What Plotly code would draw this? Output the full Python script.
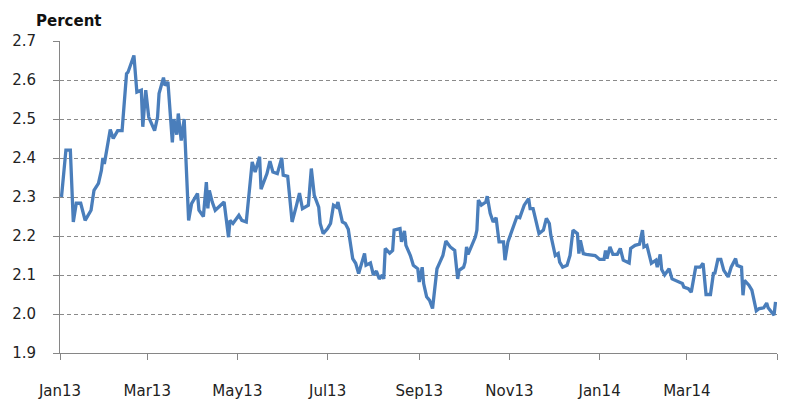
import plotly.graph_objects as go

dates = [
    "2013-01-02","2013-01-05","2013-01-08","2013-01-10","2013-01-12","2013-01-15","2013-01-18","2013-01-22",
    "2013-01-24","2013-01-27","2013-01-29","2013-01-30","2013-01-31","2013-02-02","2013-02-04","2013-02-06",
    "2013-02-09","2013-02-12","2013-02-15","2013-02-16","2013-02-20","2013-02-22","2013-02-25","2013-02-26",
    "2013-02-28","2013-03-02","2013-03-06","2013-03-08","2013-03-09","2013-03-12","2013-03-13","2013-03-15",
    "2013-03-18","2013-03-19","2013-03-21","2013-03-22","2013-03-24","2013-03-26","2013-03-29","2013-03-31",
    "2013-04-04","2013-04-05","2013-04-08","2013-04-10","2013-04-11","2013-04-12","2013-04-14","2013-04-16",
    "2013-04-22","2013-04-25","2013-04-26","2013-04-28","2013-05-02","2013-05-04","2013-05-07","2013-05-11",
    "2013-05-13","2013-05-16","2013-05-17","2013-05-21","2013-05-23","2013-05-25","2013-05-28","2013-05-31",
    "2013-06-01","2013-06-04","2013-06-07","2013-06-10","2013-06-12","2013-06-14","2013-06-18","2013-06-20",
    "2013-06-22","2013-06-25","2013-06-26","2013-06-28","2013-07-01","2013-07-03","2013-07-05","2013-07-07",
    "2013-07-08","2013-07-11","2013-07-13","2013-07-15","2013-07-18","2013-07-20","2013-07-22","2013-07-26",
    "2013-07-27","2013-07-30","2013-08-01","2013-08-03","2013-08-05","2013-08-07","2013-08-08","2013-08-09",
    "2013-08-12","2013-08-14","2013-08-15","2013-08-19","2013-08-20","2013-08-22","2013-08-23","2013-08-26",
    "2013-08-28","2013-08-31","2013-09-01","2013-09-03","2013-09-04","2013-09-06","2013-09-08","2013-09-10",
    "2013-09-13","2013-09-15","2013-09-17","2013-09-19","2013-09-22","2013-09-25","2013-09-27","2013-09-28",
    "2013-10-01","2013-10-02","2013-10-03","2013-10-04","2013-10-06","2013-10-09","2013-10-10","2013-10-11",
    "2013-10-13","2013-10-16","2013-10-17","2013-10-19","2013-10-21","2013-10-23","2013-10-24","2013-10-25",
    "2013-10-28","2013-10-29","2013-10-31","2013-11-03","2013-11-06","2013-11-08","2013-11-11","2013-11-14",
    "2013-11-15","2013-11-17","2013-11-19","2013-11-21","2013-11-24","2013-11-26","2013-11-28","2013-11-29",
    "2013-12-02","2013-12-04","2013-12-05","2013-12-07","2013-12-10","2013-12-12","2013-12-14","2013-12-17",
    "2013-12-18","2013-12-19","2013-12-21","2013-12-23","2013-12-29","2014-01-01","2014-01-04","2014-01-05",
    "2014-01-06","2014-01-08","2014-01-10","2014-01-13","2014-01-15","2014-01-17","2014-01-21","2014-01-22",
    "2014-01-25","2014-01-28","2014-01-30","2014-01-31","2014-02-02","2014-02-04","2014-02-05","2014-02-08",
    "2014-02-09","2014-02-11","2014-02-12","2014-02-14","2014-02-17","2014-02-19","2014-02-22","2014-02-26",
    "2014-02-27","2014-03-02","2014-03-04","2014-03-07","2014-03-10","2014-03-12","2014-03-14","2014-03-17",
    "2014-03-19","2014-03-20","2014-03-22","2014-03-24","2014-03-26","2014-03-29","2014-03-31","2014-04-03",
    "2014-04-04","2014-04-07","2014-04-08","2014-04-09","2014-04-12","2014-04-14","2014-04-17","2014-04-19",
    "2014-04-22","2014-04-24","2014-04-25","2014-04-27","2014-04-29","2014-04-30",
]

percent = [
    2.30,2.42,2.42,2.236,2.284,2.284,2.24,2.266,
    2.317,2.335,2.368,2.40,2.385,2.43,2.473,2.45,
    2.47,2.47,2.616,2.62,2.663,2.569,2.574,2.48,
    2.574,2.505,2.47,2.505,2.565,2.606,2.586,2.595,
    2.44,2.50,2.46,2.514,2.445,2.50,2.24,2.283,
    2.309,2.266,2.25,2.338,2.271,2.317,2.287,2.266,
    2.287,2.197,2.24,2.232,2.253,2.24,2.236,2.39,
    2.364,2.403,2.32,2.36,2.392,2.364,2.36,2.40,
    2.356,2.353,2.236,2.279,2.31,2.27,2.279,2.373,
    2.304,2.274,2.232,2.206,2.219,2.232,2.279,2.274,
    2.287,2.236,2.232,2.217,2.142,2.13,2.104,2.155,
    2.125,2.131,2.10,2.11,2.09,2.10,2.09,2.168,
    2.156,2.163,2.215,2.219,2.185,2.213,2.176,2.15,
    2.125,2.116,2.082,2.12,2.078,2.044,2.035,2.014,
    2.116,2.133,2.15,2.187,2.172,2.163,2.09,2.112,
    2.12,2.133,2.172,2.153,2.172,2.198,2.215,2.292,
    2.279,2.287,2.302,2.258,2.236,2.247,2.215,2.185,
    2.185,2.138,2.185,2.215,2.249,2.247,2.279,2.296,
    2.27,2.27,2.236,2.206,2.215,2.245,2.232,2.202,
    2.15,2.155,2.133,2.12,2.125,2.15,2.215,2.206,
    2.155,2.189,2.155,2.153,2.15,2.14,2.14,2.163,
    2.142,2.172,2.153,2.153,2.168,2.138,2.131,2.168,
    2.176,2.179,2.215,2.172,2.176,2.146,2.13,2.138,
    2.12,2.153,2.114,2.10,2.116,2.09,2.085,2.078,
    2.069,2.065,2.056,2.12,2.12,2.13,2.05,2.05,
    2.104,2.105,2.14,2.14,2.112,2.095,2.12,2.142,
    2.125,2.12,2.048,2.086,2.074,2.061,2.008,2.014,
    2.016,2.028,2.016,2.008,1.997,2.031,
]

tick_dates = ["2013-01-01","2013-03-01","2013-05-01","2013-07-01","2013-09-01",
              "2013-11-01","2014-01-01","2014-03-01","2014-05-01"]
tick_labels = ["Jan13","Mar13","May13","Jul13","Sep13","Nov13","Jan14","Mar14",""]
y_ticks = [1.9,2.0,2.1,2.2,2.3,2.4,2.5,2.6,2.7]

FONT = "DejaVu Sans"

fig = go.Figure()
fig.add_trace(go.Scatter(
    x=dates, y=percent, mode="lines",
    line=dict(color="#4a7ebb", width=3.3),
    hoverinfo="skip",
))

fig.update_layout(
    width=800, height=413,
    margin=dict(l=52, r=31, t=33, b=68, autoexpand=False),
    paper_bgcolor="white", plot_bgcolor="white",
    showlegend=False,
    font=dict(family=FONT, size=15, color="#222"),
    xaxis=dict(
        type="date",
        range=["2013-01-01", "2014-05-01"],
        tickvals=tick_dates, ticktext=tick_labels,
        showgrid=False, zeroline=False,
        showline=True, linecolor="#868686", linewidth=1,
        ticks="outside", ticklen=6, tickcolor="#868686",
        ticklabelstandoff=18,
        tickfont=dict(family=FONT, size=15, color="#222"),
    ),
    yaxis=dict(
        range=[1.9, 2.7],
        tickvals=y_ticks, tickformat=".1f",
        showgrid=True, gridcolor="#8a8a8a", gridwidth=1, griddash="4px,3px",
        zeroline=False,
        showline=True, linecolor="#868686", linewidth=1,
        ticks="outside", ticklen=6, tickcolor="#868686",
        ticklabelstandoff=14,
        tickfont=dict(family=FONT, size=15, color="#222"),
    ),
    annotations=[dict(
        text="<b>Percent</b>", xref="paper", yref="paper",
        x=-0.036, y=1.064, xanchor="left", yanchor="middle",
        showarrow=False, font=dict(family=FONT, size=15, color="#111"),
    )],
)

fig.write_html("out.html")
